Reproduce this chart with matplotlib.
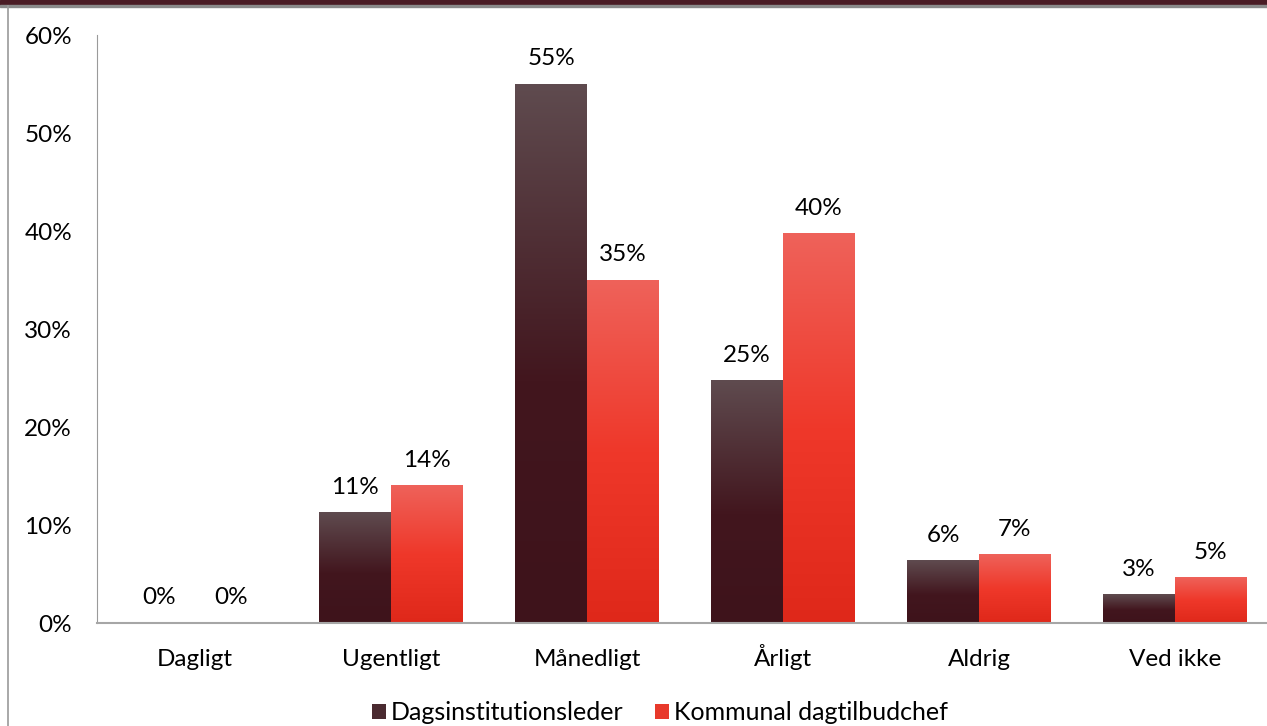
import numpy as np
import matplotlib.pyplot as plt
from matplotlib.colors import LinearSegmentedColormap
from matplotlib.patches import Rectangle, Patch

plt.rcParams['font.family'] = ['Lato', 'DejaVu Sans']

categories = ['Dagligt', 'Ugentligt', 'Månedligt', 'Årligt', 'Aldrig', 'Ved ikke']
leder = [0.0, 11.3, 55.0, 24.7, 6.4, 2.9]
chef = [0.0, 14.0, 35.0, 39.7, 7.0, 4.6]
leder_labels = ['0%', '11%', '55%', '25%', '6%', '3%']
chef_labels = ['0%', '14%', '35%', '40%', '7%', '5%']
series_names = ['Dagsinstitutionsleder', 'Kommunal dagtilbudchef']

dark_cmap = LinearSegmentedColormap.from_list('dark', [(0, '#3e131b'), (0.45, '#42161e'), (1, '#5f4b4f')])
red_cmap = LinearSegmentedColormap.from_list('red', [(0, '#df281a'), (0.5, '#ef382a'), (1, '#ee625a')])

FS = 17.5

fig = plt.figure(figsize=(12.67, 7.26), dpi=100)
# frame decorations
fig.add_artist(Rectangle((0, 1 - 5 / 726), 1, 5 / 726, transform=fig.transFigure,
                         color='#4a1c25', zorder=0))
fig.add_artist(Rectangle((0, 1 - 6.5 / 726), 1, 1.5 / 726, transform=fig.transFigure,
                         color='#8a8a8a', zorder=0))
fig.add_artist(plt.Line2D([7.5 / 1267, 7.5 / 1267], [0, 1 - 6 / 726], transform=fig.transFigure,
                          color='#9a9a9a', lw=1.2))

ax = fig.add_axes([97 / 1267, (726 - 623) / 726, 1176 / 1267, 588 / 726])
n = len(categories)
x = np.arange(n)
w = 0.367

grad = np.linspace(0, 1, 256).reshape(-1, 1)
for i in range(n):
    for v, off, cmap, lab in [(leder[i], -w / 2, dark_cmap, leder_labels[i]),
                              (chef[i], w / 2, red_cmap, chef_labels[i])]:
        if v > 0:
            ax.imshow(grad, cmap=cmap, origin='lower', aspect='auto',
                      extent=(x[i] + off - w / 2, x[i] + off + w / 2, 0, v), zorder=2)
        ax.text(x[i] + off, v + 1.5, lab, ha='center', va='bottom', fontsize=FS, color='#000000')

ax.set_xlim(-0.5, n - 0.5)
ax.set_ylim(0, 60)
ax.set_xticks(x)
ax.set_xticklabels(categories, fontsize=FS, va='baseline')
ax.set_yticks(np.arange(0, 61, 10))
ax.set_yticklabels([f'{t}%' for t in range(0, 61, 10)], fontsize=FS)
ax.tick_params(axis='y', length=0, pad=18)
ax.tick_params(axis='x', length=0, pad=31)
for s in ['top', 'right']:
    ax.spines[s].set_visible(False)
ax.spines['left'].set_color('#9a9a9a')
ax.spines['bottom'].set_color('#a6a6a6')
ax.spines['bottom'].set_linewidth(1.5)

handles = [Patch(facecolor='#4a2a30'), Patch(facecolor='#e8392b')]
fig.legend(handles, series_names, loc='center', bbox_to_anchor=(660 / 1267, 1 - 713 / 726), ncol=2,
           frameon=False, fontsize=18, handlelength=0.55, handleheight=0.55,
           handletextpad=0.2, columnspacing=1.25, borderpad=0)

fig.savefig('out.png', dpi=100)
